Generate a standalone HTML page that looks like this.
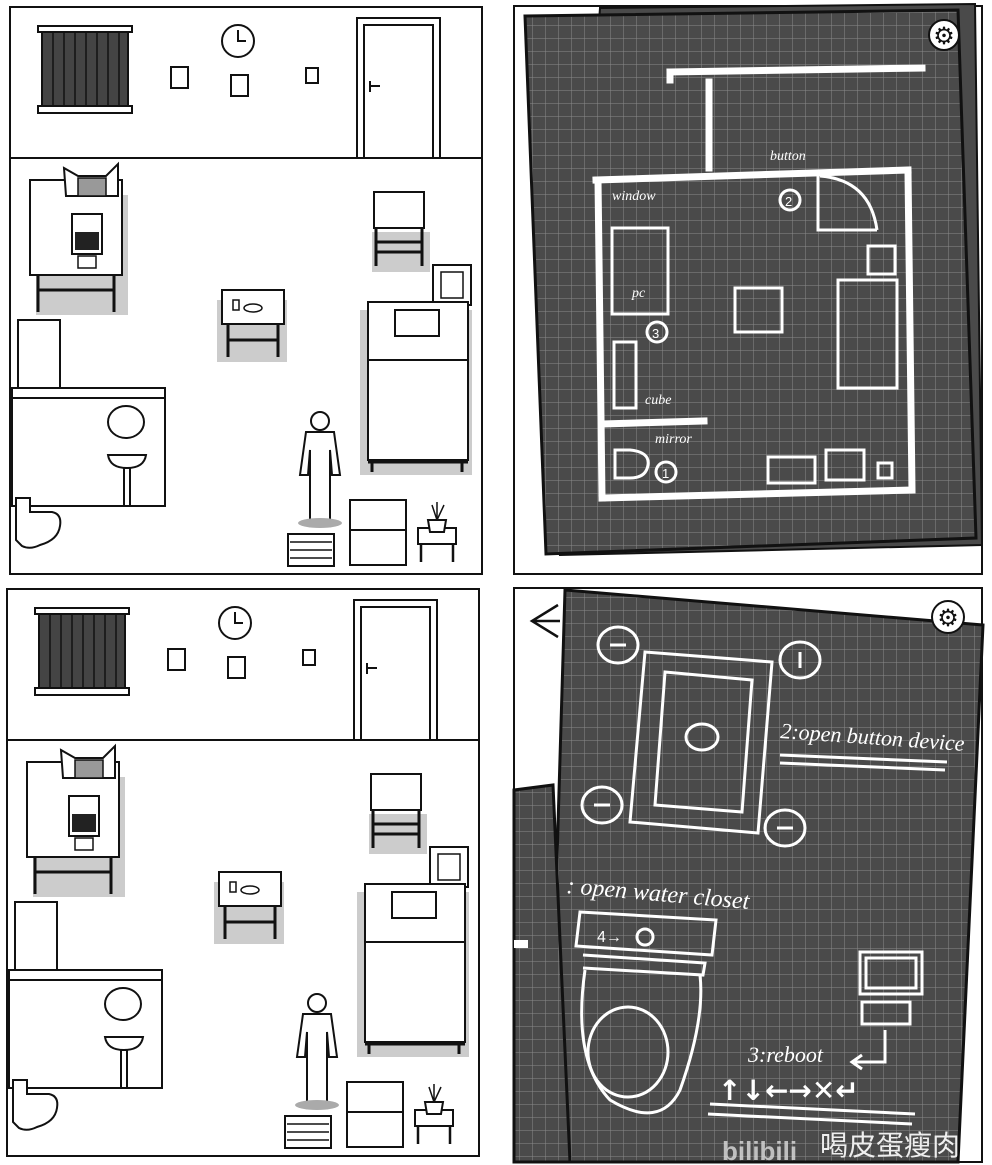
<!DOCTYPE html>
<html><head><meta charset="utf-8"><style>
html,body{margin:0;padding:0;background:#fff;}
svg{display:block;}
.hw{font-family:"Liberation Serif",serif;font-style:italic;fill:#fff;}
</style></head><body>
<svg width="992" height="1165" viewBox="0 0 992 1165" xmlns="http://www.w3.org/2000/svg">
<defs>
<pattern id="grid" width="13" height="13" patternUnits="userSpaceOnUse">
<rect width="13" height="13" fill="#4a4a4a"/>
<path d="M13 0V13M0 13H13" stroke="#8a8a8a" stroke-width="1"/>
</pattern>
<g id="room">
<rect x="10" y="7" width="472" height="567" fill="#fff" stroke="#111" stroke-width="2"/>
<line x1="10" y1="158" x2="482" y2="158" stroke="#111" stroke-width="2"/>
<!-- window -->
<rect x="38" y="26" width="94" height="6" fill="#fff" stroke="#111" stroke-width="2"/>
<rect x="42" y="32" width="86" height="74" fill="#444" stroke="#111" stroke-width="2"/>
<path d="M53 32V106M64 32V106M75 32V106M86 32V106M97 32V106M108 32V106M119 32V106" stroke="#111" stroke-width="1.5"/>
<rect x="38" y="106" width="94" height="7" fill="#fff" stroke="#111" stroke-width="2"/>
<!-- clock & frames -->
<circle cx="238" cy="41" r="16" fill="#fff" stroke="#111" stroke-width="2"/>
<path d="M238 30V41H246" stroke="#111" stroke-width="2" fill="none"/>
<rect x="171" y="67" width="17" height="21" fill="#fff" stroke="#111" stroke-width="2"/>
<rect x="231" y="75" width="17" height="21" fill="#fff" stroke="#111" stroke-width="2"/>
<rect x="306" y="68" width="12" height="15" fill="#fff" stroke="#111" stroke-width="2"/>
<!-- door -->
<rect x="357" y="18" width="83" height="140" fill="#fff" stroke="#111" stroke-width="2"/>
<rect x="364" y="25" width="69" height="133" fill="#fff" stroke="#111" stroke-width="2"/>
<path d="M370 86H380M370 81V92" stroke="#111" stroke-width="2"/>
<!-- desk -->
<rect x="36" y="195" width="92" height="120" fill="#ccc"/>
<rect x="30" y="180" width="92" height="95" fill="#fff" stroke="#111" stroke-width="2"/>
<path d="M38 275V312M114 275V312M38 290H114" stroke="#111" stroke-width="3"/>
<path d="M64 168L78 176H106L118 164V196H66Z" fill="#fff" stroke="#111" stroke-width="2"/>
<rect x="78" y="178" width="28" height="18" fill="#999" stroke="#111" stroke-width="1.5"/>
<rect x="72" y="214" width="30" height="40" fill="#fff" stroke="#111" stroke-width="2"/>
<rect x="75" y="232" width="24" height="18" fill="#222"/>
<rect x="78" y="256" width="18" height="12" fill="#fff" stroke="#111" stroke-width="1.5"/>
<!-- bathroom -->
<rect x="18" y="320" width="42" height="68" fill="#fff" stroke="#111" stroke-width="2"/>
<rect x="12" y="388" width="153" height="118" fill="#fff" stroke="#111" stroke-width="2"/>
<line x1="12" y1="398" x2="165" y2="398" stroke="#111" stroke-width="2"/>
<ellipse cx="126" cy="422" rx="18" ry="16" fill="#fff" stroke="#111" stroke-width="2"/>
<path d="M108 455H146Q144 468 127 468Q110 468 108 455Z" fill="#fff" stroke="#111" stroke-width="2"/>
<rect x="124" y="468" width="6" height="38" fill="#fff" stroke="#111" stroke-width="2"/>
<path d="M16 498H30V512H52Q62 514 60 526Q58 540 40 545Q30 550 22 546L16 540Z" fill="#fff" stroke="#111" stroke-width="2"/>
<!-- small table -->
<rect x="217" y="300" width="70" height="62" fill="#ccc"/>
<rect x="222" y="290" width="62" height="34" fill="#fff" stroke="#111" stroke-width="2"/>
<path d="M228 324V357M278 324V357M228 340H278" stroke="#111" stroke-width="3"/>
<rect x="233" y="300" width="6" height="10" fill="#fff" stroke="#111" stroke-width="1.5"/>
<ellipse cx="253" cy="308" rx="9" ry="4" fill="#fff" stroke="#111" stroke-width="1.5"/>
<!-- chair -->
<rect x="372" y="232" width="58" height="40" fill="#ccc"/>
<rect x="374" y="192" width="50" height="36" fill="#fff" stroke="#111" stroke-width="2"/>
<path d="M376 228V266M422 228V266M376 242H422M376 252H422" stroke="#111" stroke-width="3"/>
<!-- frame -->
<rect x="433" y="265" width="38" height="40" fill="#fff" stroke="#111" stroke-width="2"/>
<rect x="441" y="272" width="22" height="26" fill="#fff" stroke="#111" stroke-width="1.5"/>
<!-- bed -->
<rect x="360" y="310" width="112" height="165" fill="#ccc"/>
<rect x="368" y="302" width="100" height="60" fill="#fff" stroke="#111" stroke-width="2"/>
<rect x="395" y="310" width="44" height="26" fill="#fff" stroke="#111" stroke-width="2"/>
<rect x="368" y="360" width="100" height="100" fill="#fff" stroke="#111" stroke-width="2"/>
<path d="M372 460V472M462 460V472M368 462H468" stroke="#111" stroke-width="3"/>
<!-- person -->
<circle cx="320" cy="421" r="9" fill="#fff" stroke="#111" stroke-width="2"/>
<path d="M306 432H334L340 475H332L330 450V520H310V450L308 475H300Z" fill="#fff" stroke="#111" stroke-width="2"/>
<ellipse cx="320" cy="523" rx="22" ry="5" fill="#aaa"/>
<!-- items -->
<rect x="288" y="534" width="46" height="32" fill="#fff" stroke="#111" stroke-width="2"/>
<path d="M290 542H332M290 550H332M290 558H332" stroke="#111" stroke-width="1.5"/>
<rect x="350" y="500" width="56" height="65" fill="#fff" stroke="#111" stroke-width="2"/>
<line x1="350" y1="530" x2="406" y2="530" stroke="#111" stroke-width="2"/>
<rect x="418" y="528" width="38" height="16" fill="#fff" stroke="#111" stroke-width="2"/>
<path d="M421 544V562M453 544V562" stroke="#111" stroke-width="2.5"/>
<path d="M428 520H446L444 532H430Z" fill="#fff" stroke="#111" stroke-width="2"/>
<path d="M437 520L432 505M437 520L444 505M437 520V502" stroke="#111" stroke-width="1.5"/>
</g>
</defs>

<use href="#room"/>
<use href="#room" transform="translate(-3,582)"/>

<!-- TOP RIGHT -->
<rect x="514" y="6" width="468" height="568" fill="#fff" stroke="#111" stroke-width="2"/>
<polygon points="600,8 975,4 982,545 560,555" fill="#4a4a4a" stroke="#111" stroke-width="2"/>
<polygon points="525,16 958,10 976,538 546,554" fill="url(#grid)" stroke="#111" stroke-width="3"/>
<g stroke="#fff" stroke-width="7" fill="none" stroke-linecap="square">
<path d="M670 72L922 68"/>
<path d="M670 72V80"/>
<path d="M709 82V168"/>
<path d="M596 180L908 170"/>
<path d="M598 180L602 498"/>
<path d="M908 172L912 490L602 498"/>
<path d="M602 424L704 421"/>
</g>
<g stroke="#fff" stroke-width="3" fill="none">
<rect x="612" y="228" width="56" height="86"/>
<rect x="735" y="288" width="47" height="44"/>
<rect x="838" y="280" width="59" height="108"/>
<rect x="868" y="246" width="27" height="28"/>
<rect x="614" y="342" width="22" height="66"/>
<rect x="768" y="457" width="47" height="26"/>
<rect x="826" y="450" width="38" height="30"/>
<rect x="878" y="463" width="14" height="15"/>
<path d="M615 450H630Q650 452 648 465Q646 478 630 478H615Z"/>
<path d="M818 174V230H877M820 176Q870 180 877 230"/>
<circle cx="790" cy="200" r="10"/>
<circle cx="657" cy="332" r="10"/>
<circle cx="666" cy="472" r="10"/>
</g>
<g class="hw" font-size="14">
<text x="770" y="160">button</text>
<text x="612" y="200">window</text>
<text x="632" y="297">pc</text>
<text x="645" y="404">cube</text>
<text x="655" y="443">mirror</text>
<text x="785" y="206" font-size="13" font-style="normal" font-family="Liberation Sans">2</text>
<text x="652" y="338" font-size="13" font-style="normal" font-family="Liberation Sans">3</text>
<text x="662" y="478" font-size="13" font-style="normal" font-family="Liberation Sans">1</text>
</g>
<circle cx="944" cy="35" r="15" fill="#fff" stroke="#111" stroke-width="2"/>
<text x="944" y="44" text-anchor="middle" font-size="24" font-family="DejaVu Sans" fill="#111">⚙</text>

<!-- BOTTOM RIGHT -->
<rect x="514" y="588" width="468" height="574" fill="#fff" stroke="#111" stroke-width="2"/>
<polygon points="565,590 983,625 958,1162 548,1162" fill="url(#grid)" stroke="#111" stroke-width="3"/>
<polygon points="514,790 553,785 570,1162 514,1162" fill="url(#grid)" stroke="#111" stroke-width="3"/>
<rect x="514" y="940" width="14" height="8" fill="#fff"/>
<path d="M558 605L532 621L558 637M532 621H560" stroke="#111" stroke-width="2.5" fill="none"/>
<circle cx="948" cy="617" r="16" fill="#fff" stroke="#111" stroke-width="2"/>
<text x="948" y="626" text-anchor="middle" font-size="24" font-family="DejaVu Sans" fill="#111">⚙</text>
<g stroke="#fff" stroke-width="3" fill="none">
<path d="M645 652L772 662L758 833L630 822Z"/>
<path d="M665 672L752 680L742 812L655 805Z"/>
<ellipse cx="702" cy="737" rx="16" ry="13"/>
<ellipse cx="618" cy="645" rx="20" ry="18"/><path d="M610 645H626"/>
<ellipse cx="800" cy="660" rx="20" ry="18"/><path d="M800 652V668"/>
<ellipse cx="602" cy="805" rx="20" ry="18"/><path d="M594 805H610"/>
<ellipse cx="785" cy="828" rx="20" ry="18"/><path d="M777 828H793"/>
<path d="M780 755L947 762M780 763L945 770"/>
<path d="M580 912L716 920L712 955L576 946Z"/>
<path d="M583 955L705 963L703 975L583 968"/>
<path d="M585 970Q572 1060 610 1100Q660 1130 680 1090Q705 1020 700 975"/>
<ellipse cx="628" cy="1052" rx="40" ry="45"/>
<circle cx="645" cy="937" r="8"/>
<rect x="860" y="952" width="62" height="42"/>
<rect x="866" y="958" width="50" height="30"/>
<rect x="862" y="1002" width="48" height="22"/>
<path d="M885 1030V1062H855M862 1055L852 1062L862 1069"/>
<path d="M710 1104L915 1114M708 1114L912 1124"/>
</g>
<g class="hw">
<text x="780" y="738" font-size="22" transform="rotate(4 780 738)">2:open button device</text>
<text x="566" y="893" font-size="24" transform="rotate(5 566 893)">: open water closet</text>
<text x="597" y="942" font-size="16" font-style="normal" font-family="Liberation Sans">4→</text>
<text x="748" y="1062" font-size="22">3:reboot</text>
<text x="718" y="1100" font-size="28" font-style="normal" font-family="DejaVu Sans" font-weight="bold">↑↓←→✕↵</text>
</g>
<text x="722" y="1160" font-size="26" font-family="Liberation Sans" font-weight="bold" fill="#ddd" opacity="0.8">bilibili</text>
<text x="820" y="1155" font-size="28" font-family="'Noto Sans CJK SC',sans-serif" fill="#eee">喝皮蛋瘦肉</text>
</svg>
</body></html>
